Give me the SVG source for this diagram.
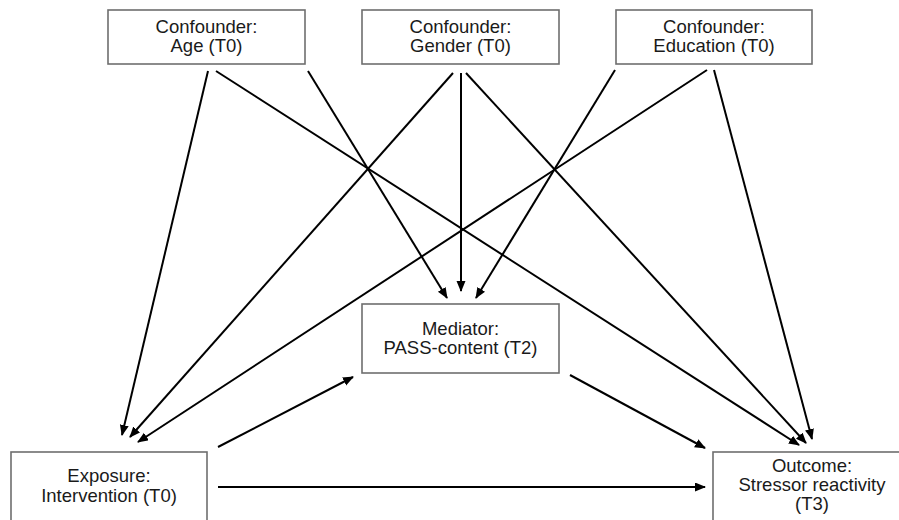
<svg xmlns="http://www.w3.org/2000/svg" width="899" height="520" viewBox="0 0 899 520">
<defs>
<marker id="ah" markerUnits="userSpaceOnUse" markerWidth="12" markerHeight="10" refX="10" refY="4.5" orient="auto">
<path d="M0,0 L11,4.5 L0,9 z" fill="#000"/>
</marker>
<style>
.box{fill:#fff;stroke:#6e6e6e;stroke-width:1.6}
.t{font-family:"Liberation Sans",Arial,sans-serif;font-size:18.5px;fill:#1a1a1a;text-anchor:middle}
.c{stroke:#000;stroke-width:2;fill:none;marker-end:url(#ah)}
</style>
</defs>
<rect width="899" height="520" fill="#fff"/>
<g id="connectors">
<line class="c" x1="208" y1="71" x2="122" y2="435"/>
<line class="c" x1="216" y1="71" x2="799" y2="445"/>
<line class="c" x1="308" y1="71" x2="447" y2="298"/>
<line class="c" x1="453" y1="73" x2="130" y2="437"/>
<line class="c" x1="461" y1="73" x2="461" y2="291"/>
<line class="c" x1="466" y1="73" x2="806" y2="443"/>
<line class="c" x1="615" y1="70" x2="476" y2="298"/>
<line class="c" x1="707" y1="70" x2="138" y2="442"/>
<line class="c" x1="714" y1="70" x2="812" y2="439"/>
<line class="c" x1="218" y1="447" x2="353" y2="377"/>
<line class="c" x1="570" y1="375" x2="705" y2="448"/>
<line class="c" x1="218" y1="487" x2="705" y2="487"/>
</g>
<g id="age">
<rect class="box" x="108" y="10" width="197" height="54"/>
<text class="t" x="206.5" y="33">Confounder:</text>
<text class="t" x="206.5" y="52">Age (T0)</text>
</g>
<g id="gender">
<rect class="box" x="362" y="10" width="197" height="54"/>
<text class="t" x="460.5" y="33">Confounder:</text>
<text class="t" x="460.5" y="52">Gender (T0)</text>
</g>
<g id="education">
<rect class="box" x="616" y="10" width="196" height="54"/>
<text class="t" x="714" y="33">Confounder:</text>
<text class="t" x="714" y="52">Education (T0)</text>
</g>
<g id="mediator">
<rect class="box" x="362" y="304" width="197" height="69"/>
<text class="t" x="460.5" y="335">Mediator:</text>
<text class="t" x="460.5" y="354">PASS-content (T2)</text>
</g>
<g id="exposure">
<rect class="box" x="11" y="452" width="196" height="80"/>
<text class="t" x="109" y="482">Exposure:</text>
<text class="t" x="109" y="502">Intervention (T0)</text>
</g>
<g id="outcome">
<rect class="box" x="713" y="452" width="198" height="80"/>
<text class="t" x="812" y="472">Outcome:</text>
<text class="t" x="812" y="491">Stressor reactivity</text>
<text class="t" x="812" y="510">(T3)</text>
</g>
</svg>
